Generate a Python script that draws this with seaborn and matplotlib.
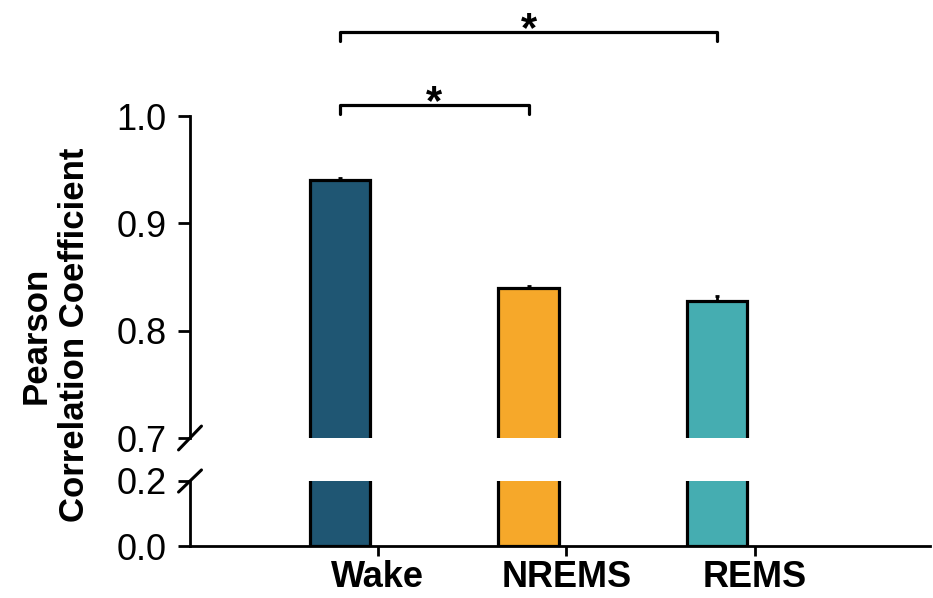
import matplotlib
matplotlib.use("Agg")
import matplotlib.pyplot as plt
import seaborn as sns
import pandas as pd
import numpy as np

# ---- data ----
states = ["Wake", "NREMS", "REMS"]
pearson_r = [0.940, 0.840, 0.828]
sem = [0.002, 0.002, 0.004]
colors = ["#1F5673", "#F6A82A", "#45ADB1"]
top_ticks = [0.7, 0.8, 0.9, 1.0]
bottom_ticks = [0.0, 0.2]
comparisons = [("Wake", "NREMS", "*"), ("Wake", "REMS", "*")]

sns.set_theme(style="white")
plt.rcParams["font.family"] = ["Liberation Sans", "DejaVu Sans"]

df = pd.DataFrame({"state": states, "r": pearson_r})
pal = dict(zip(states, colors))

fig = plt.figure(figsize=(9.33, 5.98), dpi=100)
left, right = 190 / 933, 930 / 933
ax_top = fig.add_axes([left, 1 - 438 / 598, right - left, (438 - 116) / 598])
ax_bot = fig.add_axes([left, 1 - 546 / 598, right - left, (546 - 481) / 598])

for ax in (ax_top, ax_bot):
    sns.barplot(data=df, x="state", y="r", hue="state", palette=pal,
                saturation=1, width=0.32, edgecolor="black", linewidth=2.3,
                legend=False, ax=ax)
    ax.set_xlim(-0.796, 3.13)
    ax.set_xlabel("")
    ax.set_ylabel("")
    for s in ("top", "right"):
        ax.spines[s].set_visible(False)
    for s in ("left", "bottom"):
        ax.spines[s].set_linewidth(2.0)
        ax.spines[s].set_color("black")
    ax.tick_params(axis="y", direction="out", length=9, width=2.0,
                   pad=8, labelsize=26, left=True, colors="black")

xpos = np.arange(len(states))
ax_top.errorbar(xpos, pearson_r, yerr=[np.zeros(len(sem)), sem],
                fmt="none", ecolor="black", elinewidth=2.0, capsize=1.5,
                capthick=2.0, zorder=5)

ax_top.set_ylim(0.7, 1.0)
ax_top.set_yticks(top_ticks)
ax_top.set_yticklabels([f"{t:.1f}" for t in top_ticks])
ax_top.spines["bottom"].set_visible(False)
ax_top.set_xticks([])

ax_bot.set_ylim(0.0, 0.2)
ax_bot.set_yticks(bottom_ticks)
ax_bot.set_yticklabels([f"{t:.1f}" for t in bottom_ticks])
ax_bot.set_xticks(xpos + 0.2)
ax_bot.set_xticklabels(states, fontsize=26, fontweight="bold")
ax_bot.tick_params(axis="x", direction="out", length=7, width=2.0,
                   pad=3, bottom=True, colors="black")

# break marks
kw = dict(color="black", lw=2.2, clip_on=False, solid_capstyle="round")
ax_top.plot([-0.0155, 0.0155], [-0.037, 0.037], transform=ax_top.transAxes, **kw)
ax_bot.plot([-0.0155, 0.0155], [0.83, 1.17], transform=ax_bot.transAxes, **kw)

# significance brackets
levels = [1.010, 1.078]
drop = 0.008
for (a, b, lab), y in zip(comparisons, levels):
    xa, xb = states.index(a), states.index(b)
    ax_top.plot([xa, xa, xb, xb], [y - drop, y, y, y - drop],
                color="black", lw=2.3, clip_on=False)
    ax_top.text((xa + xb) / 2, y - 0.0084, lab, ha="center", va="baseline",
                fontsize=30, fontweight="bold", color="black")

fig.text(0.059, 0.44, "Pearson\nCorrelation Coefficient", rotation=90,
         ha="center", va="center", fontsize=25, fontweight="bold",
         multialignment="center", color="black")

fig.savefig("out.png", dpi=100)
